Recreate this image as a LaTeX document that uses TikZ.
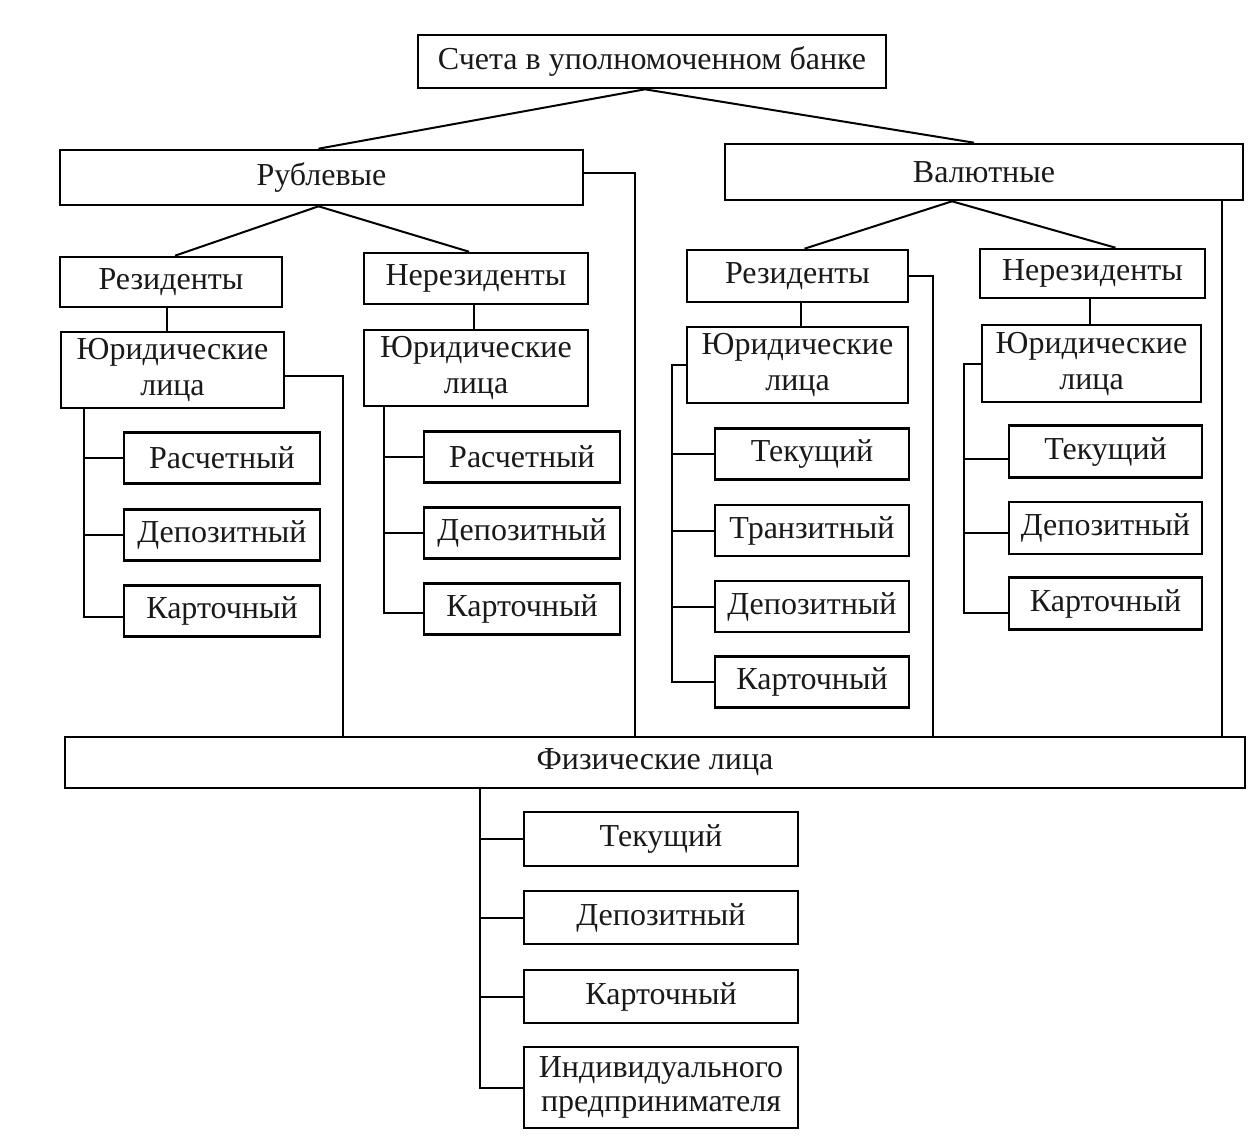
\documentclass[tikz,border=0pt]{standalone}
\usepackage{fontspec}
\setmainfont{Liberation Serif}
\usepackage{tikz}
\usetikzlibrary{calc}

\begin{document}
\begin{tikzpicture}[
      x=1pt, y=-1pt,
      box/.style={rectangle, draw, line width=2.6pt, minimum height=51pt,
                  align=center, inner sep=2pt, text=black!90,
                  font=\fontsize{32}{36}\selectfont},
      link/.style={line width=2pt}
    ]
    \useasboundingbox (0,0) rectangle (1248,1144);

    \node[box, minimum width=468pt, minimum height=53pt] (bank) at (652,61.5) {Счета в уполномоченном банке};
    \node[box, minimum width=523pt, minimum height=55pt] (rub) at (321.5,177.5) {Рублевые};
    \node[box, minimum width=518pt, minimum height=56pt] (val) at (984,172) {Валютные};

    \node[box, minimum width=222pt, minimum height=50pt] (rubres) at (171,282) {Резиденты};
    \node[box, minimum width=224pt] (rubnon) at (476,278.5) {Нерезиденты};
    \node[box, minimum width=221pt, minimum height=52pt] (valres) at (797.5,276) {Резиденты};
    \node[box, minimum width=225pt, minimum height=49pt] (valnon) at (1092.5,273.5) {Нерезиденты};

    \node[box, minimum width=223pt, minimum height=76pt] (rubresjur) at (172.5,370) {Юридические\\лица};
    \node[box, minimum width=224pt, minimum height=76pt] (rubnonjur) at (476,368) {Юридические\\лица};
    \node[box, minimum width=221pt, minimum height=76pt] (valresjur) at (797.5,365) {Юридические\\лица};
    \node[box, minimum width=219pt, minimum height=77pt] (valnonjur) at (1091.5,363.5) {Юридические\\лица};

    \node[box, minimum width=196pt] (rubres1) at (222,458) {Расчетный};
    \node[box, minimum width=196pt] (rubres2) at (222,535) {Депозитный};
    \node[box, minimum width=196pt] (rubres3) at (222,611) {Карточный};

    \node[box, minimum width=196pt] (rubnon1) at (522,457) {Расчетный};
    \node[box, minimum width=196pt] (rubnon2) at (522,533) {Депозитный};
    \node[box, minimum width=196pt] (rubnon3) at (522,609) {Карточный};

    \node[box, minimum width=194pt] (valres1) at (812,454) {Текущий};
    \node[box, minimum width=194pt] (valres2) at (812,530.5) {Транзитный};
    \node[box, minimum width=194pt] (valres3) at (812,606.5) {Депозитный};
    \node[box, minimum width=194pt] (valres4) at (812,682) {Карточный};

    \node[box, minimum width=193pt, minimum height=52pt] (valnon1) at (1105.5,451.5) {Текущий};
    \node[box, minimum width=193pt, minimum height=52pt] (valnon2) at (1105.5,528) {Депозитный};
    \node[box, minimum width=193pt, minimum height=52pt] (valnon3) at (1105.5,603.5) {Карточный};

    \node[box, minimum width=1180pt] (fiz) at (655,762.5) {Физические лица};

    \node[box, minimum width=274pt, minimum height=54pt] (fiz1) at (661,839) {Текущий};
    \node[box, minimum width=274pt, minimum height=53pt] (fiz2) at (661,917.5) {Депозитный};
    \node[box, minimum width=274pt, minimum height=53pt] (fiz3) at (661,996.5) {Карточный};
    \node[box, minimum width=274pt, minimum height=81pt, font=\fontsize{32}{34}\selectfont] (fiz4) at (661,1087.5) {Индивидуального\\предпринимателя};

    \coordinate (bankfork) at ($(bank.south)+(-7,0)$);
    \coordinate (rubfork) at ($(rub.south)+(-3,0)$);
    \coordinate (valfork) at ($(val.south)+(-32,0)$);
    \draw[link] (bankfork) -- ($(rub.north)+(-3,0)$);
    \draw[link] (bankfork) -- ($(val.north)+(-10,0)$);
    \draw[link] (rubfork) -- ($(rubres.north)+(4,0)$);
    \draw[link] (rubfork) -- ($(rubnon.north)+(-7,0)$);
    \draw[link] (valfork) -- ($(valres.north)+(7,0)$);
    \draw[link] (valfork) -- ($(valnon.north)+(23,0)$);

    \coordinate (j1) at (167,0);
    \coordinate (j2) at (474,0);
    \coordinate (j3) at (801,0);
    \coordinate (j4) at (1090,0);
    \draw[link] (j1 |- rubres.south) -- (j1 |- rubresjur.north);
    \draw[link] (j2 |- rubnon.south) -- (j2 |- rubnonjur.north);
    \draw[link] (j3 |- valres.south) -- (j3 |- valresjur.north);
    \draw[link] (j4 |- valnon.south) -- (j4 |- valnonjur.north);

    \coordinate (s1) at (343,0);
    \coordinate (s2) at (635,0);
    \coordinate (s3) at (933,0);
    \coordinate (s4) at (1222,0);
    \draw[link] ($(rubresjur.east)+(0,6)$) -| (s1 |- fiz.north);
    \draw[link] ($(rub.east)+(0,-5)$) -| (s2 |- fiz.north);
    \draw[link] (valres.east) -| (s3 |- fiz.north);
    \draw[link] (s4 |- val.south) -- (s4 |- fiz.north);

    \coordinate (t1) at (84,0);
    \draw[link] (t1 |- rubresjur.south) |- ($(rubres3.west)+(0,6)$);
    \draw[link] (t1 |- rubres1.west) -- (rubres1.west);
    \draw[link] (t1 |- rubres2.west) -- (rubres2.west);

    \coordinate (t2) at (384,0);
    \draw[link] (t2 |- rubnonjur.south) |- ($(rubnon3.west)+(0,4)$);
    \draw[link] (t2 |- rubnon1.west) -- (rubnon1.west);
    \draw[link] (t2 |- rubnon2.west) -- (rubnon2.west);

    \coordinate (t3) at (672,0);
    \draw[link] (valresjur.west) -| (t3 |- valres4.west) -- (valres4.west);
    \draw[link] (t3 |- valres1.west) -- (valres1.west);
    \draw[link] (t3 |- valres2.west) -- (valres2.west);
    \draw[link] (t3 |- valres3.west) -- (valres3.west);

    \coordinate (t4) at (964,0);
    \draw[link] (valnonjur.west) -| ($(t4 |- valnon3.west)+(0,9)$) -- ($(valnon3.west)+(0,9)$);
    \draw[link] ($(t4 |- valnon1.west)+(0,7)$) -- ($(valnon1.west)+(0,7)$);
    \draw[link] ($(t4 |- valnon2.west)+(0,5)$) -- ($(valnon2.west)+(0,5)$);

    \coordinate (t5) at (480,0);
    \draw[link] (t5 |- fiz.south) |- (fiz4.west);
    \draw[link] (t5 |- fiz1.west) -- (fiz1.west);
    \draw[link] (t5 |- fiz2.west) -- (fiz2.west);
    \draw[link] (t5 |- fiz3.west) -- (fiz3.west);
\end{tikzpicture}
\end{document}
